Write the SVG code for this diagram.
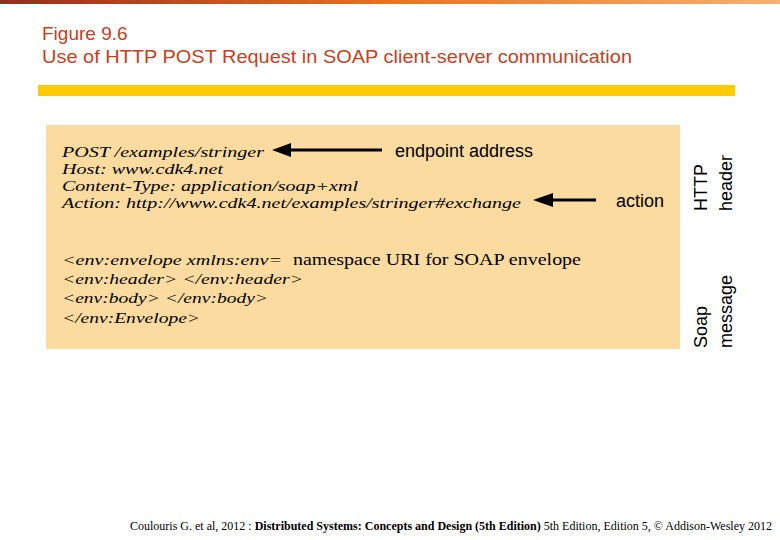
<svg xmlns="http://www.w3.org/2000/svg" width="780" height="540" viewBox="0 0 780 540">
<defs>
<linearGradient id="top" x1="0" x2="1" y1="0" y2="0"><stop offset="0" stop-color="#9a2a1c"/><stop offset="0.5" stop-color="#e8741e"/><stop offset="1" stop-color="#f7b070"/></linearGradient>
</defs>
<style>
.t{font-family:"Liberation Sans",Arial,sans-serif;fill:#c8401a;font-size:19px}
.c{font-family:"Liberation Serif","Times New Roman",serif;font-style:italic;font-size:15.5px;fill:#000}
.s{font-family:"Liberation Sans",Arial,sans-serif;font-size:18px;fill:#000}
.ln{stroke:#000;stroke-width:3;fill:none}
</style>
<rect width="780" height="540" fill="#fff"/>
<rect x="0" y="0" width="780" height="4" fill="url(#top)"/>
<text class="t" x="42" y="40">Figure 9.6</text>
<text class="t" x="42" y="63" textLength="590" lengthAdjust="spacingAndGlyphs">Use of HTTP POST Request in SOAP client-server communication</text>
<rect x="38" y="85" width="697" height="11" fill="#fecb00"/>
<g id="box">
<rect x="46" y="125" width="634" height="224" fill="#fbdba0"/>
<text class="c" x="62" y="157" textLength="202" lengthAdjust="spacingAndGlyphs">POST /examples/stringer</text>
<text class="c" x="62" y="174" textLength="161" lengthAdjust="spacingAndGlyphs">Host: www.cdk4.net</text>
<text class="c" x="62" y="191" textLength="296" lengthAdjust="spacingAndGlyphs">Content-Type: application/soap+xml</text>
<text class="c" x="62" y="208" textLength="459" lengthAdjust="spacingAndGlyphs">Action: http://www.cdk4.net/examples/stringer#exchange</text>
<text class="c" x="62" y="265" textLength="220" lengthAdjust="spacingAndGlyphs">&lt;env:envelope xmlns:env=</text>
<text class="c" x="293" y="265" style="font-style:normal;font-size:17px" textLength="288" lengthAdjust="spacingAndGlyphs">namespace URI for SOAP envelope</text>
<text class="c" x="62" y="284" textLength="241" lengthAdjust="spacingAndGlyphs">&lt;env:header&gt; &lt;/env:header&gt;</text>
<text class="c" x="62" y="303" textLength="206" lengthAdjust="spacingAndGlyphs">&lt;env:body&gt; &lt;/env:body&gt;</text>
<text class="c" x="62" y="323" textLength="138" lengthAdjust="spacingAndGlyphs">&lt;/env:Envelope&gt;</text>
</g>
<g id="labels">
<text class="s" x="395" y="157">endpoint address</text>
<text class="s" x="616" y="207">action</text>
<text class="s" transform="translate(707,211) rotate(-90)">HTTP</text>
<text class="s" transform="translate(732,211) rotate(-90)">header</text>
<text class="s" transform="translate(707,348) rotate(-90)">Soap</text>
<text class="s" transform="translate(732,348) rotate(-90)">message</text>
</g>
<g id="connectors">
<line class="ln" x1="382" y1="150" x2="288" y2="150"/>
<polygon points="272,150 291,143 291,157" fill="#000"/>
<line class="ln" x1="596" y1="200" x2="550" y2="200"/>
<polygon points="533,200 553,193 553,207" fill="#000"/>
</g>
<text x="130" y="530" font-family="Liberation Serif,serif" font-size="11.5" fill="#000" textLength="642" lengthAdjust="spacingAndGlyphs">Coulouris G. et al, 2012 : <tspan font-weight="bold">Distributed Systems: Concepts and Design (5th Edition)</tspan> 5th Edition, Edition 5, © Addison-Wesley 2012</text>
</svg>
